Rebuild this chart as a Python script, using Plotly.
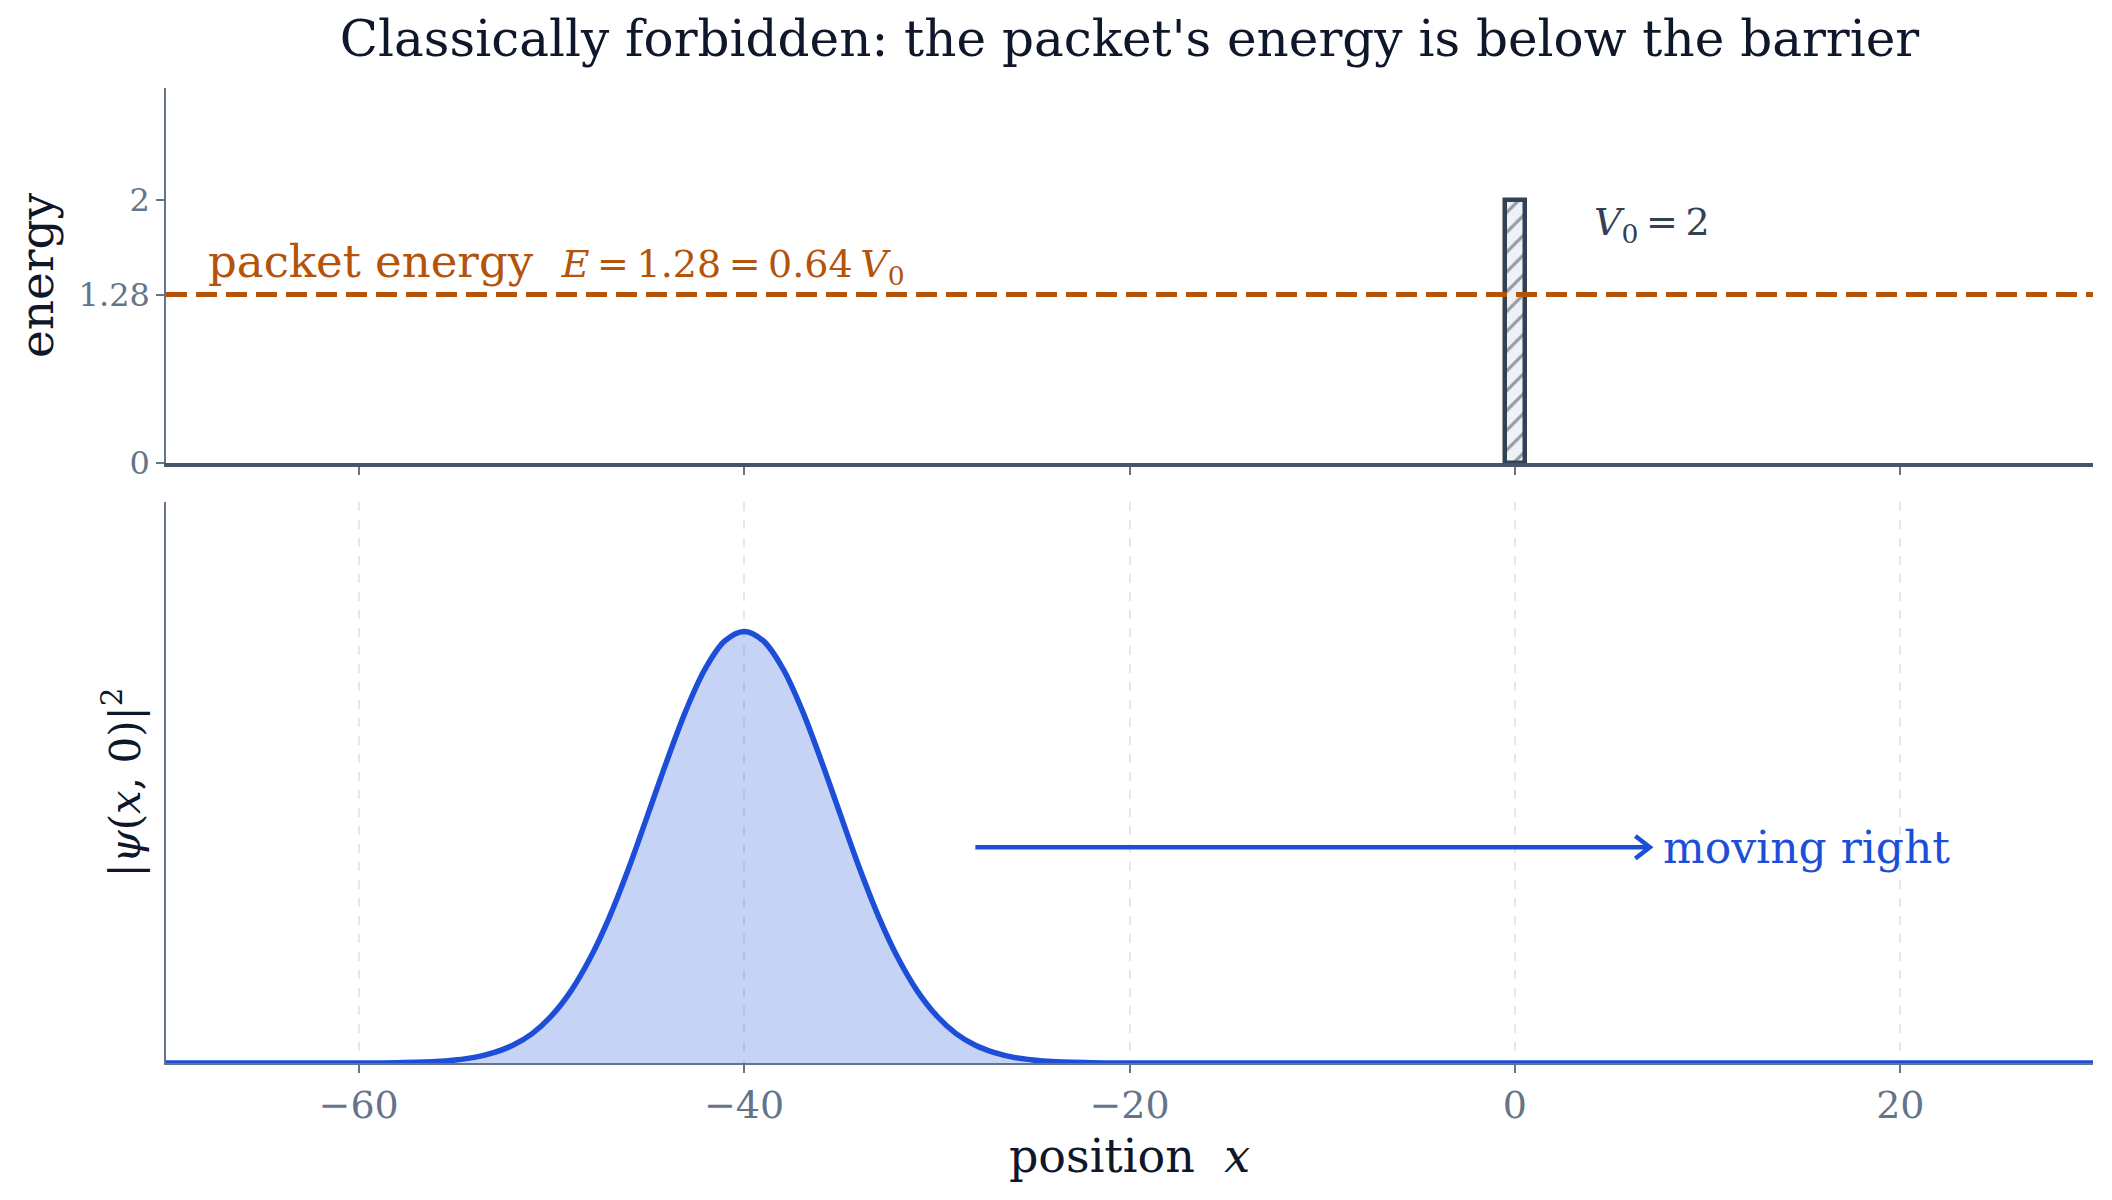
import plotly.graph_objects as go
from plotly.subplots import make_subplots

# packet |psi(x,0)|^2 (fraction of the peak height)
x_psi = [-70, -64, -60, -58, -56, -55, -54, -53, -52, -51, -50, -49, -48, -47, -46, -45,
         -44, -43, -42, -41, -40, -39, -38, -37, -36, -35, -34, -33, -32, -31, -30,
         -29, -28, -27, -26, -25, -24, -22, -20, -16, -10, 0, 10, 20, 30]
psi_sq = [0.0, 0.0, 0.0001, 0.0008, 0.0034, 0.007, 0.013, 0.024, 0.041, 0.068, 0.109,
          0.166, 0.242, 0.337, 0.450, 0.575, 0.701, 0.819, 0.915, 0.978, 1.0,
          0.978, 0.915, 0.819, 0.701, 0.575, 0.450, 0.337, 0.242, 0.166, 0.109,
          0.068, 0.041, 0.024, 0.013, 0.007, 0.0034, 0.0008, 0.0001, 0.0, 0.0, 0.0, 0.0, 0.0, 0.0]

# barrier and packet energy
barrier_x = [0]
barrier_height = [2]
barrier_width = [1]
energy_x = [-70, 30]
energy_level = [1.28, 1.28]

x_ticks = [-60, -40, -20, 0, 20]
energy_ticks = [0, 1.28, 2]
energy_ticklabels = ['0', '1.28', '2']

FONT = 'DejaVu Serif'
DARK = '#0f172a'
SLATE = '#334155'
TICK = '#64748b'
ORANGE = '#b45309'
BLUE = '#1d4ed8'
TS = '\u2009'  # thin space for the maths-like label

fig = make_subplots(rows=2, cols=1, shared_xaxes=False, vertical_spacing=0.04)

fig.add_trace(go.Scatter(x=energy_x, y=energy_level, mode='lines',
                         line=dict(color=ORANGE, width=5, dash='21px,9px'),
                         showlegend=False, hoverinfo='skip'), row=1, col=1)

fig.add_trace(go.Bar(x=barrier_x, y=barrier_height, width=barrier_width,
                     marker=dict(color='#eef2f7',
                                 line=dict(color=SLATE, width=4.5),
                                 pattern=dict(shape='/', fgcolor=SLATE, bgcolor='#eef2f7',
                                              size=14, solidity=0.22)),
                     showlegend=False), row=1, col=1)

fig.add_trace(go.Scatter(x=x_psi, y=psi_sq, mode='lines', fill='tozeroy',
                         fillcolor='rgba(29,78,216,0.25)',
                         line=dict(color=BLUE, width=5.5, shape='spline', smoothing=1.0),
                         showlegend=False), row=2, col=1)

# arrow "moving right"
fig.add_shape(type='line', x0=-28, x1=7, y0=0.5, y1=0.5, xref='x2', yref='y2',
              line=dict(color=BLUE, width=4.5))
fig.add_shape(type='path', path='M 6.25,0.474 L 7,0.5 L 6.25,0.526', xref='x2', yref='y2',
              line=dict(color=BLUE, width=4.5))

fig.add_annotation(x=7.6, y=0.5, xref='x2', yref='y2', text='moving right',
                   showarrow=False, xanchor='left', yanchor='middle',
                   font=dict(family=FONT, size=44, color=BLUE))
fig.add_annotation(x=-67.9, y=1.52, xref='x', yref='y',
                   text=('packet energy  <span style="font-size:38px"><i>E</i>' + TS + '=' + TS
                         + '1.28' + TS + '=' + TS + '0.64' + TS + '<i>V</i><sub>0</sub></span>'),
                   showarrow=False, xanchor='left', yanchor='middle',
                   font=dict(family=FONT, size=45, color=ORANGE))
fig.add_annotation(x=4, y=1.81, xref='x', yref='y',
                   text='<i>V</i><sub>0</sub>' + TS + '=' + TS + '2',
                   showarrow=False, xanchor='left', yanchor='middle',
                   font=dict(family=FONT, size=38, color=SLATE))

fig.update_layout(
    width=2112, height=1200,
    paper_bgcolor='white', plot_bgcolor='white',
    margin=dict(l=158, r=27, t=80, b=145),
    font=dict(family=FONT, color=DARK),
    title=dict(text="Classically forbidden: the packet's energy is below the barrier",
               xref='paper', x=0.5, xanchor='center', y=0.975, yanchor='middle',
               font=dict(family=FONT, size=50, color=DARK)),
    bargap=0,
)

fig.update_xaxes(range=[-70, 30], tickvals=x_ticks, showgrid=False, zeroline=False,
                 ticks='outside', ticklen=8, tickcolor=TICK, tickwidth=1.5,
                 showticklabels=False, showline=True, linecolor='#475569', linewidth=3.5,
                 row=1, col=1)
fig.update_yaxes(range=[0, 2.85], tickvals=energy_ticks, ticktext=energy_ticklabels,
                 showgrid=False, zeroline=False, ticks='outside', ticklen=8,
                 tickcolor=TICK, tickwidth=1.5, showline=True, linecolor=TICK, linewidth=1.5,
                 tickfont=dict(family=FONT, size=32, color=TICK),
                 title=dict(text='energy', font=dict(family=FONT, size=47, color=DARK),
                            standoff=10),
                 domain=[0.6154, 1.0], row=1, col=1)

fig.update_xaxes(range=[-70, 30], tickvals=x_ticks, showgrid=True, gridcolor='#e2e8f0',
                 griddash='dash', gridwidth=1.5, zeroline=False,
                 ticks='outside', ticklen=8, tickcolor=TICK, tickwidth=1.5,
                 tickfont=dict(family=FONT, size=38, color=TICK),
                 showline=True, linecolor=TICK, linewidth=1.5,
                 title=dict(text='position  <i>x</i>', font=dict(family=FONT, size=46, color=DARK),
                            standoff=13),
                 row=2, col=1)
fig.update_yaxes(range=[0, 1.3], showgrid=False, zeroline=False, showticklabels=False,
                 ticks='', showline=True, linecolor=TICK, linewidth=1.5,
                 title=dict(text='|<i>ψ</i>(<i>x</i>, 0)|<sup>2</sup>',
                            font=dict(family=FONT, size=42, color=DARK), standoff=11),
                 domain=[0.0, 0.5754], row=2, col=1)

fig.write_html("out.html")
